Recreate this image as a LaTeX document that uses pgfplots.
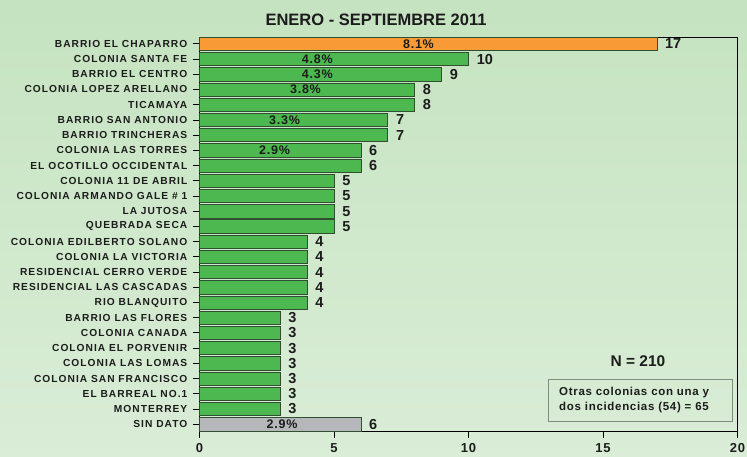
\documentclass[border=0pt]{standalone}
\usepackage{pgfplots}
\pgfplotsset{compat=1.18}
\usepackage{pgfplotstable}
\usepackage{fontspec}
\setmainfont{Liberation Sans}
\newfontfamily\labelfont[LetterSpace=10]{Liberation Sans}
\newfontfamily\widefont[LetterSpace=6]{Liberation Sans}
\definecolor{bgtop}{HTML}{C5E3C0}
\definecolor{bgbot}{HTML}{DAEDD7}
\definecolor{barorange}{HTML}{F89B36}
\definecolor{bargreen}{HTML}{4DB84F}
\definecolor{bargrey}{HTML}{B5B7BA}
\definecolor{bardraw}{HTML}{2F4F30}
\definecolor{boxdraw}{HTML}{7F8C7F}
\definecolor{txt}{HTML}{1C1C1C}

\pgfplotstableread{
y v
0 17
}\orangedata
\pgfplotstableread{
y v
1 10
2 9
3 8
4 8
5 7
6 7
7 6
8 6
9 5
10 5
11 5
12 5
13 4
14 4
15 4
16 4
17 4
18 3
19 3
20 3
21 3
22 3
23 3
24 3
}\greendata
\pgfplotstableread{
y v
25 6
}\greydata
\pgfplotstableread{
y lx p
0 8.14 8.1
1 4.38 4.8
2 4.38 4.3
3 3.94 3.8
5 3.16 3.3
7 2.79 2.9
25 3.07 2.9
}\pctdata

\begin{document}
\begin{tikzpicture}
\shade[top color=bgtop, bottom color=bgbot] (-199.5pt,-26pt) rectangle (547.5pt,431pt);
\begin{axis}[
  at={(0pt,0pt)}, anchor=south west,
  scale only axis, width=538pt, height=394pt,
  xmin=0, xmax=20, ymin=-0.45, ymax=25.45,
  y dir=reverse,
  xtick={0,5,10,15,20},
  ytick={0,...,25},
  yticklabels={BARRIO EL CHAPARRO, COLONIA SANTA FE, BARRIO EL CENTRO, COLONIA LOPEZ ARELLANO, TICAMAYA, BARRIO SAN ANTONIO, BARRIO TRINCHERAS, COLONIA LAS TORRES, EL OCOTILLO OCCIDENTAL, COLONIA 11 DE ABRIL, COLONIA ARMANDO GALE \# 1, LA JUTOSA, QUEBRADA SECA, COLONIA EDILBERTO SOLANO, COLONIA LA VICTORIA, RESIDENCIAL CERRO VERDE, RESIDENCIAL LAS CASCADAS, RIO BLANQUITO, BARRIO LAS FLORES, COLONIA CANADA, COLONIA EL PORVENIR, COLONIA LAS LOMAS, COLONIA SAN FRANCISCO, EL BARREAL NO.1, MONTERREY, SIN DATO},
  yticklabel style={font=\labelfont\bfseries\fontsize{10.2}{12}\selectfont, color=txt, inner xsep=5.5pt},
  xticklabel style={font=\widefont\bfseries\fontsize{13}{15}\selectfont, color=txt, inner ysep=5.5pt},
  /pgf/number format/assume math mode=true,
  tick align=outside, major tick length=6.5pt,
  xtick pos=bottom, ytick pos=left,
  tick style={black, line width=0.8pt},
  axis line style={black, line width=0.9pt},
  clip=false,
]
\addplot[xbar, bar width=0.875, bar shift=0pt, fill=barorange, draw=bardraw, line width=0.6pt,
  nodes near coords, every node near coord/.append style={anchor=west, inner sep=0pt, xshift=8pt, font=\bfseries\fontsize{14.5}{16}\selectfont, color=txt}]
  table[x=v, y=y]{\orangedata};
\addplot[xbar, bar width=0.875, bar shift=0pt, fill=bargreen, draw=bardraw, line width=0.6pt,
  nodes near coords, every node near coord/.append style={anchor=west, inner sep=0pt, xshift=8pt, font=\bfseries\fontsize{14.5}{16}\selectfont, color=txt}]
  table[x=v, y=y]{\greendata};
\addplot[xbar, bar width=0.875, bar shift=0pt, fill=bargrey, draw=bardraw, line width=0.6pt,
  nodes near coords, every node near coord/.append style={anchor=west, inner sep=0pt, xshift=8pt, font=\bfseries\fontsize{14.5}{16}\selectfont, color=txt}]
  table[x=v, y=y]{\greydata};
\addplot[draw=none, mark=none, point meta=explicit,
  nodes near coords={\pgfmathprintnumber[fixed,fixed zerofill,precision=1]{\pgfplotspointmeta}\%},
  every node near coord/.append style={anchor=center, inner sep=0pt, font=\widefont\bfseries\fontsize{12.5}{14}\selectfont, color=txt}]
  table[x=lx, y=y, meta=p]{\pctdata};
\end{axis}
\node[font=\bfseries\fontsize{16.5}{19}\selectfont, color=txt] at (176.5pt,411pt) {ENERO - SEPTIEMBRE 2011};
\node[font=\bfseries\fontsize{15.5}{18}\selectfont, color=txt] at (438.5pt,70.3pt) {N = 210};
\draw[boxdraw, line width=0.9pt] (348.5pt,9.3pt) rectangle (532.5pt,52pt);
\node[font=\widefont\bfseries\fontsize{11.5}{15}\selectfont, color=txt, align=left, anchor=west, inner sep=0pt] at (359.5pt,30.7pt) {Otras colonias con una y\\dos incidencias (54) = 65};
\pgfresetboundingbox
\path[use as bounding box] (-199.5pt,-26pt) rectangle (547.5pt,431pt);
\end{tikzpicture}
\end{document}
